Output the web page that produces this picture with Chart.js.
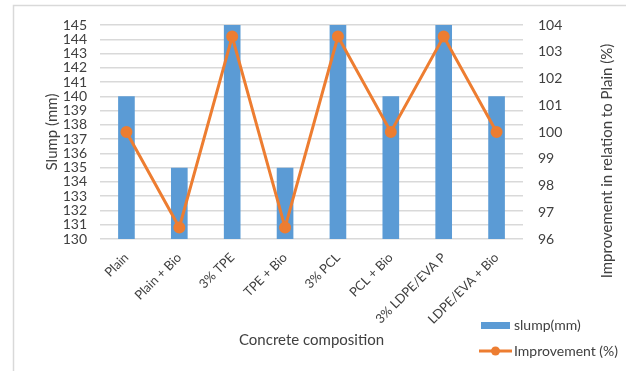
<!DOCTYPE html>
<html>
<head>
<meta charset="utf-8">
<script src="https://cdn.jsdelivr.net/npm/chart.js@4"></script>
<style>
  html, body { margin: 0; padding: 0; background: #fff; }
  #wrap { width: 626px; height: 371px; position: relative; }
</style>
</head>
<body>
<div id="wrap"><canvas id="c" width="626" height="371"></canvas></div>
<script>
// Concrete mixes and their measured results
const categories = ['Plain', 'Plain + Bio', '3% TPE', 'TPE + Bio', '3% PCL', 'PCL + Bio', '3% LDPE/EVA P', 'LDPE/EVA + Bio'];
const slumpMm = [140, 135, 145, 135, 145, 140, 145, 140];
const improvementPct = [100, 96.43, 103.57, 96.43, 103.57, 100, 103.57, 100];
const slumpTicks = [130, 145, 1];        // min, max, step
const improvementTicks = [96, 104, 1];   // min, max, step

const FONT = 'Lato, "Open Sans", sans-serif';
const TEXT = '#404040';
const BLUE = '#5B9BD5';
const ORANGE = '#ED7D31';

// Frame, axis titles and the legend box drawn around the plot
const decorations = {
  id: 'decorations',
  beforeDraw(chart) {
    const ctx = chart.ctx;
    ctx.save();
    ctx.fillStyle = '#fff';
    ctx.fillRect(0, 0, chart.width, chart.height);
    ctx.strokeStyle = '#D9D9D9';
    ctx.lineWidth = 1.5;
    ctx.beginPath();
    ctx.moveTo(13.5, chart.height);
    ctx.lineTo(13.5, 5.5);
    ctx.lineTo(chart.width, 5.5);
    ctx.stroke();
    ctx.restore();
  },
  afterDraw(chart) {
    const ctx = chart.ctx;
    const area = chart.chartArea;
    ctx.save();
    ctx.fillStyle = TEXT;
    ctx.font = '15px ' + FONT;
    ctx.textAlign = 'center';
    ctx.textBaseline = 'middle';
    // x title
    ctx.fillText('Concrete composition', (area.left + area.right) / 2, 340);
    // left title
    ctx.save();
    ctx.translate(52, (area.top + area.bottom) / 2);
    ctx.rotate(-Math.PI / 2);
    ctx.fillText('Slump (mm)', 0, 0);
    ctx.restore();
    // right title
    ctx.save();
    ctx.translate(607, 161);
    ctx.rotate(-Math.PI / 2);
    ctx.fillText('Improvement in relation to Plain (%)', 0, 0);
    ctx.restore();

    // legend
    ctx.font = '14px ' + FONT;
    ctx.textAlign = 'left';
    const ds = chart.data.datasets;
    ctx.fillStyle = ds[0].backgroundColor;
    ctx.fillRect(481, 322, 29, 7);
    ctx.fillStyle = TEXT;
    ctx.fillText(ds[0].label, 514, 325.5);
    ctx.strokeStyle = ds[1].borderColor;
    ctx.lineWidth = 3;
    ctx.beginPath();
    ctx.moveTo(479, 351);
    ctx.lineTo(512, 351);
    ctx.stroke();
    ctx.fillStyle = ds[1].borderColor;
    ctx.beginPath();
    ctx.arc(495.5, 351, 4.5, 0, Math.PI * 2);
    ctx.fill();
    ctx.fillStyle = TEXT;
    ctx.fillText(ds[1].label, 514, 351.5);
    ctx.restore();
  }
};

new Chart(document.getElementById('c'), {
  data: {
    labels: categories,
    datasets: [
      {
        type: 'bar',
        label: 'slump(mm)',
        data: slumpMm,
        yAxisID: 'y',
        backgroundColor: BLUE,
        barPercentage: 0.315,
        categoryPercentage: 1,
        order: 2
      },
      {
        type: 'line',
        label: 'Improvement (%)',
        data: improvementPct,
        yAxisID: 'y1',
        borderColor: ORANGE,
        backgroundColor: ORANGE,
        borderWidth: 3,
        pointRadius: 4.5,
        pointBackgroundColor: ORANGE,
        pointBorderColor: ORANGE,
        tension: 0,
        order: 1
      }
    ]
  },
  options: {
    responsive: false,
    animation: false,
    devicePixelRatio: 1,
    layout: { padding: { top: 25, left: 0, right: 0, bottom: 0 } },
    plugins: { legend: { display: false }, tooltip: { enabled: false } },
    scales: {
      x: {
        grid: { display: false },
        border: { display: false },
        ticks: {
          color: TEXT,
          font: { family: FONT, size: 12.8 },
          minRotation: 45,
          maxRotation: 45,
          padding: 3,
          autoSkip: false
        },
        afterFit(scale) { scale.height = 132; }
      },
      y: {
        position: 'left',
        min: slumpTicks[0],
        max: slumpTicks[1],
        border: { display: false },
        grid: { color: '#D9D9D9', lineWidth: 1.5, drawTicks: false },
        ticks: {
          stepSize: slumpTicks[2],
          autoSkip: false,
          color: TEXT,
          font: { family: FONT, size: 14 },
          padding: 13
        },
        afterFit(scale) { scale.width = 100; }
      },
      y1: {
        position: 'right',
        min: improvementTicks[0],
        max: improvementTicks[1],
        border: { display: false },
        grid: { display: false, drawTicks: false },
        ticks: {
          stepSize: improvementTicks[2],
          autoSkip: false,
          color: TEXT,
          font: { family: FONT, size: 14 },
          padding: 15
        },
        afterFit(scale) { scale.width = 103; }
      }
    }
  },
  plugins: [decorations]
});
</script>
</body>
</html>
